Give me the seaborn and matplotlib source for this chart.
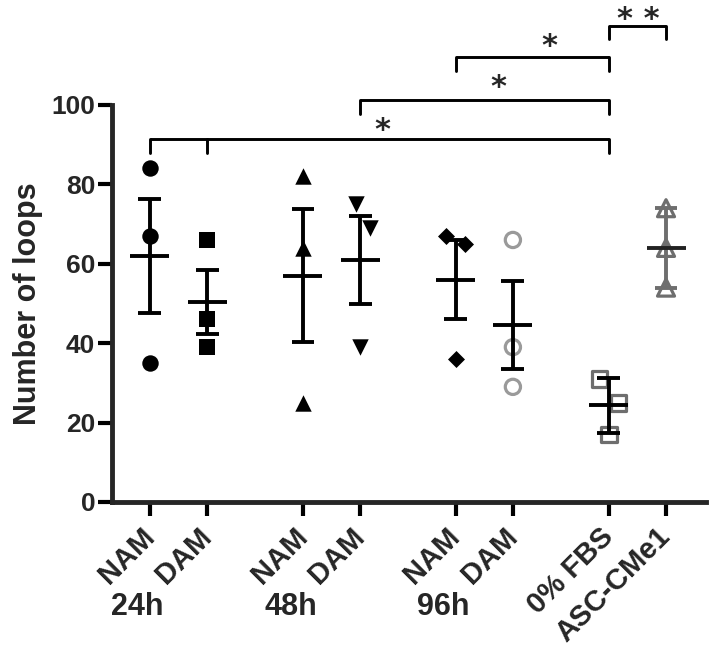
import numpy as np
import pandas as pd
import matplotlib
matplotlib.use("Agg")
import matplotlib.pyplot as plt
import seaborn as sns

# values
group_labels = ["NAM", "DAM", "NAM", "DAM", "NAM", "DAM", "0% FBS", "ASC-CMe1"]
timepoints = ["24h", "48h", "96h"]
nam_24h = [84, 67, 35]
dam_24h = [66, 46, 39]
nam_48h = [82, 64, 25]
dam_48h = [75, 69, 39]
nam_96h = [67, 65, 36]
dam_96h = [66, 39, 29]
fbs_0 = [31, 25, 17]
asc_cme1 = [74, 64, 54]
error_kind = ["sem", "sem", "sem", "sem", "sem", "sem", "sd", "sd"]
# significance brackets: (left groups, right group, label)
comparisons = [((0, 1), 6, "*"), ((3,), 6, "*"), ((4,), 6, "*"), ((6,), 7, "* *")]

groups = [nam_24h, dam_24h, nam_48h, dam_48h, nam_96h, dam_96h, fbs_0, asc_cme1]
positions = [0, 1, 2.67, 3.67, 5.33, 6.33, 8, 9]
jitter = [[0, 0, 0], [0, 0, 0], [0, 0, 0], [-0.07, 0.17, 0],
          [-0.16, 0.17, 0], [0, 0, 0], [-0.16, 0.17, 0], [0, 0, 0]]
styles = [
    dict(marker="o", s=140, color="black", edgecolor="black", linewidth=0),
    dict(marker="s", s=130, color="black", edgecolor="black", linewidth=0),
    dict(marker="^", s=140, color="black", edgecolor="black", linewidth=0),
    dict(marker="v", s=140, color="black", edgecolor="black", linewidth=0),
    dict(marker="D", s=75, color="black", edgecolor="black", linewidth=0),
    dict(marker="o", s=120, color="#9a9a9a", facecolor="none", edgecolor="#9a9a9a", linewidth=2.3),
    dict(marker="s", s=130, color="#6e6e6e", facecolor="none", edgecolor="#6e6e6e", linewidth=2.3),
    dict(marker="^", s=150, color="#6e6e6e", facecolor="none", edgecolor="#6e6e6e", linewidth=2.3),
]
bar_colors = ["black"] * 7 + ["#6e6e6e"]

sns.set_style("ticks")
plt.rcParams["font.family"] = ["Liberation Sans", "DejaVu Sans"]
plt.rcParams["font.weight"] = "bold"

fig = plt.figure(figsize=(7.09, 6.5), dpi=100)
ax = fig.add_axes([0.158, 0.2277, 0.838, 0.6108])

rows = []
for gi, vals in enumerate(groups):
    for vi, v in enumerate(vals):
        rows.append(dict(group=gi, x=positions[gi] + jitter[gi][vi], y=v))
df = pd.DataFrame(rows)

for gi, vals in enumerate(groups):
    sub = df[df["group"] == gi]
    sns.scatterplot(data=sub, x="x", y="y", ax=ax, zorder=3, clip_on=False, legend=False, **styles[gi])

    vals = np.asarray(vals, dtype=float)
    m = vals.mean()
    sd = vals.std(ddof=1)
    err = sd / np.sqrt(len(vals)) if error_kind[gi] == "sem" else sd
    p = positions[gi]
    c = bar_colors[gi]
    ax.vlines(p, m - err, m + err, color=c, lw=2.8, zorder=4)
    ax.hlines([m - err, m + err], p - 0.2, p + 0.2, color=c, lw=2.8, zorder=4)
    ax.hlines(m, p - 0.34, p + 0.34, color="black" if gi < 7 else "#222222", lw=2.8, zorder=4)

# significance brackets
bracket_y = [91.4, 101.3, 112.0, 120.0]
star_xy = [(4.05, 93.6), (6.07, 104.4), (6.96, 114.7), (8.52, 121.6)]
drop = 3.5
for (lefts, right, label), by, (sx, sy) in zip(comparisons, bracket_y, star_xy):
    x0 = positions[lefts[0]]
    x1 = positions[right]
    ax.plot([x0, x1], [by, by], color="black", lw=2.1, clip_on=False, solid_capstyle="butt")
    for li in lefts:
        ax.plot([positions[li]] * 2, [by, by - drop], color="black", lw=2.1, clip_on=False)
    ax.plot([x1, x1], [by, by - drop], color="black", lw=2.1, clip_on=False)
    ax.text(sx, sy, label, ha="center", va="center", fontsize=22, fontweight="bold",
            family="DejaVu Sans", clip_on=False)

ax.set_xlim(-0.66, 9.7)
ax.set_ylim(0, 100)
ax.set_yticks([0, 20, 40, 60, 80, 100])
ax.set_xticks(positions)
ax.set_xticklabels(group_labels, rotation=45, ha="right", va="center",
                   rotation_mode="anchor", fontsize=21, fontweight="bold")
for lab in ax.get_yticklabels():
    lab.set_fontsize(19)
    lab.set_fontweight("bold")
ax.tick_params(axis="both", direction="out", length=10, width=3, color="black")
ax.tick_params(axis="x", pad=12)
ax.tick_params(axis="y", pad=2)
ax.set_xlabel("")
ax.set_ylabel("Number of loops", fontsize=22, fontweight="bold", labelpad=6)

for side in ["left", "bottom"]:
    ax.spines[side].set_linewidth(3.5)
sns.despine(ax=ax)

for t, gi in zip(timepoints, [0, 2, 4]):
    ax.text(positions[gi] - 0.22, -0.264, t, transform=ax.get_xaxis_transform(),
            ha="center", va="center", fontsize=22, fontweight="bold")

fig.savefig("out.png", dpi=100)
